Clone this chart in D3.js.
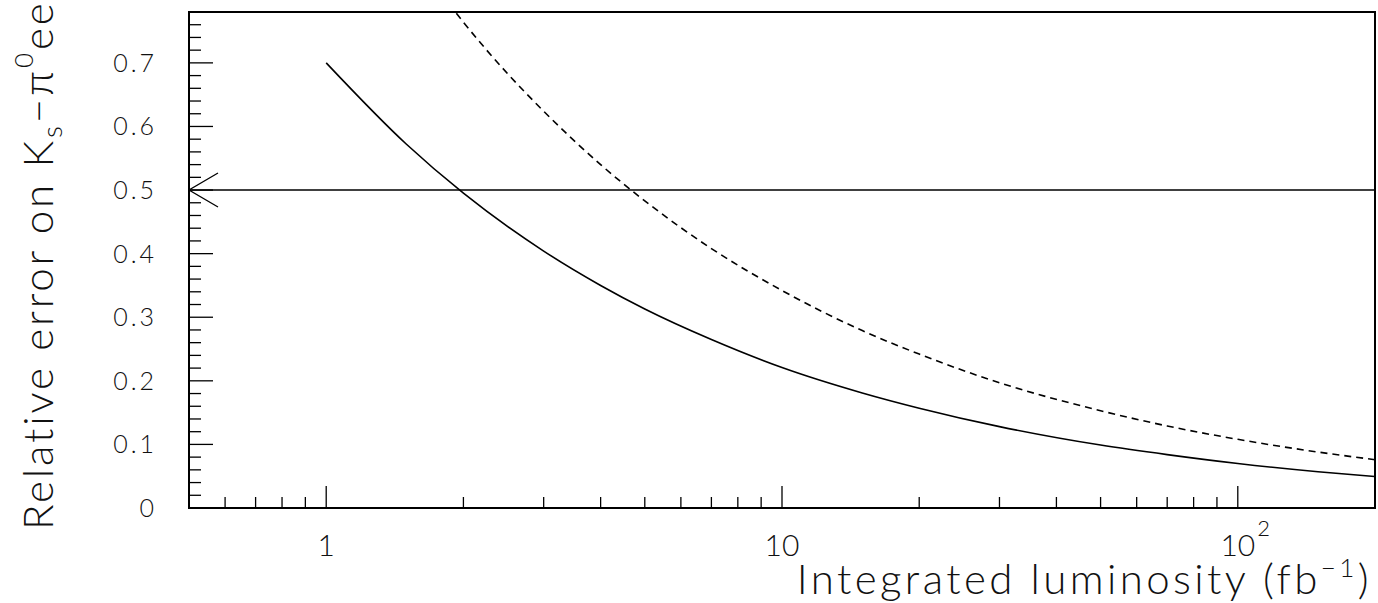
<!DOCTYPE html>
<html>
<head>
<meta charset="utf-8">
<script src="https://cdn.jsdelivr.net/npm/d3@7"></script>
<style>
  html, body { margin: 0; padding: 0; background: #fff; }
  svg { display: block; }
  text { font-family: "Lato", "Liberation Sans", sans-serif; font-weight: 300; fill: #111; }
</style>
</head>
<body>
<svg id="chart" width="1378" height="603"></svg>
<script>
// values
const solidLumi = [1, 1.5, 2, 3, 4, 5, 7, 10, 15, 20, 30, 50, 70, 100, 150, 200];
const solidErr = [0.70, 0.572, 0.495, 0.404, 0.35, 0.313, 0.265, 0.221, 0.181, 0.157, 0.128, 0.099, 0.084, 0.070, 0.057, 0.0495];

const dashedLumi = [1.93, 2, 2.5, 3, 4, 5, 7, 10, 15, 20, 30, 50, 70, 100, 150, 200];
const dashedErr = [0.778, 0.764, 0.683, 0.624, 0.54, 0.483, 0.408, 0.342, 0.279, 0.242, 0.197, 0.153, 0.129, 0.108, 0.088, 0.076];

const limitErr = 0.5;

const xDomain = [0.5, 200];
const yDomain = [0, 0.78];
const xMajorTicks = [1, 10, 100];
const xTickLabels = [['1', ''], ['10', ''], ['10', '2']];
const yMajorTicks = [0, 0.1, 0.2, 0.3, 0.4, 0.5, 0.6, 0.7];
const yTickLabels = ['0', '0.1', '0.2', '0.3', '0.4', '0.5', '0.6', '0.7'];

const svg = d3.select('#chart');
const margin = { top: 12, right: 3, bottom: 95, left: 189 };
const W = 1378, H = 603;

const x = d3.scaleLog().domain(xDomain).range([margin.left, W - margin.right]);
const y = d3.scaleLinear().domain(yDomain).range([H - margin.bottom, margin.top]);

const x0 = x.range()[0], x1 = x.range()[1];
const y0 = y.range()[0], y1 = y.range()[1];

// minor ticks on the log axis
const xMinor = [];
for (let dec = 0.1; dec <= 100; dec *= 10) {
  for (let k = 2; k <= 9; k++) {
    const v = +(k * dec).toPrecision(3);
    if (v > xDomain[0] && v < xDomain[1]) xMinor.push(v);
  }
}
const yMinor = d3.range(0.02, 0.78, 0.02).filter(v => Math.abs(v * 10 - Math.round(v * 10)) > 1e-6);

const g = svg.append('g');

// ticks (drawn inward, left and bottom only)
g.selectAll('.xminor').data(xMinor).enter().append('line')
  .attr('x1', d => x(d)).attr('x2', d => x(d))
  .attr('y1', y0).attr('y2', y0 - 11)
  .attr('stroke', '#000').attr('stroke-width', 1.3);
g.selectAll('.xmajor').data(xMajorTicks).enter().append('line')
  .attr('x1', d => x(d)).attr('x2', d => x(d))
  .attr('y1', y0).attr('y2', y0 - 22)
  .attr('stroke', '#000').attr('stroke-width', 1.3);
g.selectAll('.yminor').data(yMinor).enter().append('line')
  .attr('x1', x0).attr('x2', x0 + 12)
  .attr('y1', d => y(d)).attr('y2', d => y(d))
  .attr('stroke', '#000').attr('stroke-width', 1.3);
g.selectAll('.ymajor').data(yMajorTicks).enter().append('line')
  .attr('x1', x0).attr('x2', x0 + 24)
  .attr('y1', d => y(d)).attr('y2', d => y(d))
  .attr('stroke', '#000').attr('stroke-width', 1.3);

// tick labels
g.selectAll('.ylab').data(yMajorTicks).enter().append('text')
  .attr('x', 157).attr('y', d => y(d) + 9)
  .attr('text-anchor', 'end')
  .attr('font-size', 25)
  .attr('letter-spacing', 3)
  .text((d, i) => yTickLabels[i]);

xMajorTicks.forEach((v, i) => {
  const [base, sup] = xTickLabels[i];
  const t = g.append('text')
    .attr('y', 556)
    .attr('font-size', 30);
  t.append('tspan').text(base);
  const bw = t.node().getComputedTextLength();
  t.attr('x', x(v) - bw / 2);
  if (sup) {
    t.append('tspan').attr('dx', 2).attr('dy', -20).attr('font-size', 22).text(sup);
  }
});

// frame
g.append('rect')
  .attr('x', x0).attr('y', y1)
  .attr('width', x1 - x0).attr('height', y0 - y1)
  .attr('fill', 'none').attr('stroke', '#000').attr('stroke-width', 2);

// limit line with arrow
g.append('line')
  .attr('x1', x0).attr('x2', x1)
  .attr('y1', y(limitErr)).attr('y2', y(limitErr))
  .attr('stroke', '#000').attr('stroke-width', 1.6);
g.append('path')
  .attr('d', `M${x0 + 29},${y(limitErr) - 17} L${x0},${y(limitErr)} L${x0 + 29},${y(limitErr) + 17}`)
  .attr('fill', 'none').attr('stroke', '#000').attr('stroke-width', 1.3);

// curves
const line = d3.line().x(d => x(d[0])).y(d => y(d[1])).curve(d3.curveMonotoneX);

g.append('path')
  .datum(solidLumi.map((l, i) => [l, solidErr[i]]))
  .attr('d', line)
  .attr('fill', 'none').attr('stroke', '#000').attr('stroke-width', 1.6);

g.append('path')
  .datum(dashedLumi.map((l, i) => [l, dashedErr[i]]))
  .attr('d', line)
  .attr('fill', 'none').attr('stroke', '#000').attr('stroke-width', 1.6)
  .attr('stroke-dasharray', '7,5');

// axis titles
const xt = g.append('text')
  .attr('x', 1372).attr('y', 594)
  .attr('text-anchor', 'end')
  .attr('font-size', 42)
  .attr('letter-spacing', 3.4);
xt.append('tspan').text('Integrated luminosity (fb');
xt.append('tspan').attr('dy', -17).attr('font-size', 26).text('−1');
xt.append('tspan').attr('dy', 17).text(')');

const yt = g.append('text')
  .attr('transform', 'translate(53,530) rotate(-90)')
  .attr('font-size', 42)
  .attr('letter-spacing', 2.9);
yt.append('tspan').text('Relative error on K');
yt.append('tspan').attr('dy', 9).attr('font-size', 28).text('s');
yt.append('tspan').attr('dy', -9).text('−π');
yt.append('tspan').attr('dy', -20).attr('font-size', 26).text('0');
yt.append('tspan').attr('dy', 20).text('ee');
</script>
</body>
</html>
